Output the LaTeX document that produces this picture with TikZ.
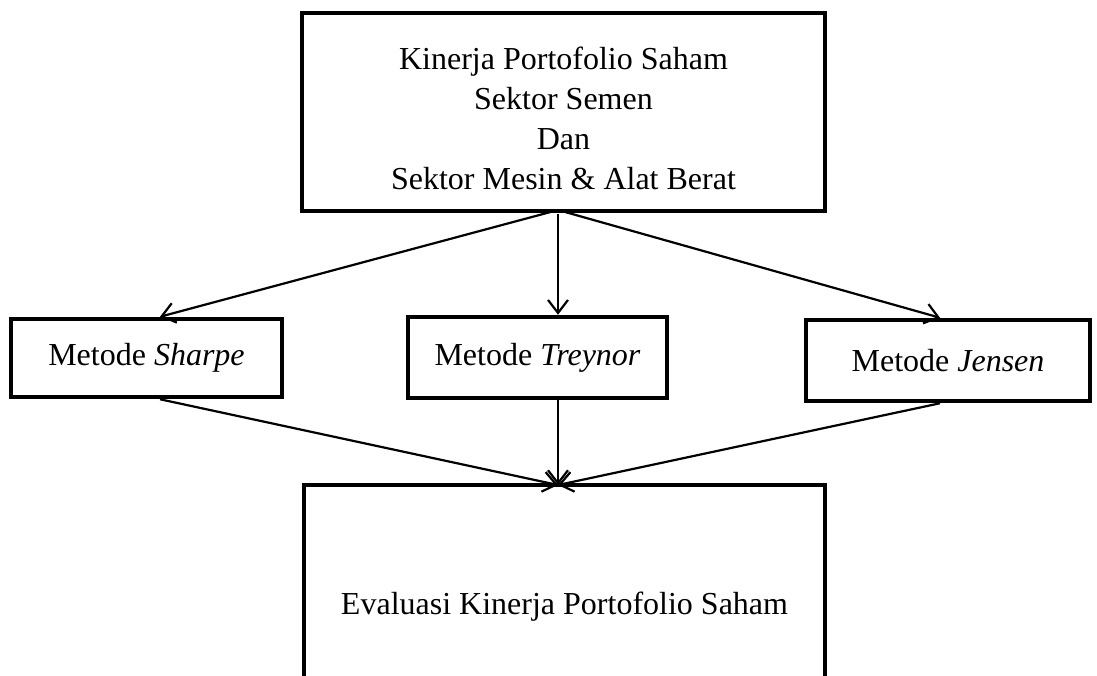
\documentclass[tikz,border=0pt]{standalone}
\usepackage{fontspec}
\setmainfont{Liberation Serif}
\usetikzlibrary{arrows.meta}

\begin{document}
\begin{tikzpicture}[x=1pt, y=-1pt,
    box/.style={draw, line width=4.5pt, align=center, inner sep=0pt,
                font=\fontsize{32}{40}\selectfont},
    arr/.style={line width=2.2pt, -{Straight Barb[length=13pt, width=20pt, line width=2.2pt]}}]
    \useasboundingbox (0,0) rectangle (1097,675);
    \clip (0,0) rectangle (1097,675);

    \node[box, minimum width=523pt, minimum height=198pt] (kinerja) at (563.5,112)
        {\rule{0pt}{36pt}Kinerja Portofolio Saham\\Sektor Semen\\Dan\\Sektor Mesin \& Alat Berat};

    \node[box, minimum width=271pt, minimum height=78pt] (sharpe) at (146.5,358) {Metode \textit{Sharpe}};
    \node[box, minimum width=259pt, minimum height=81pt] (treynor) at (537.5,357.5) {Metode \textit{Treynor}};
    \node[box, minimum width=284pt, minimum height=81pt] (jensen) at (948,360.5) {Metode \textit{Jensen}};

    \node[box, minimum width=521pt, minimum height=244pt] (evaluasi) at (564.5,607)
        {Evaluasi Kinerja Portofolio Saham};

    \coordinate (split) at (558,214);
    \coordinate (join) at (558,485);

    \draw[arr] ([yshift=4pt]split) -- ([xshift=13.5pt]sharpe.north);
    \draw[arr] (split) -- (split |- treynor.north);
    \draw[arr] ([yshift=4pt]split) -- ([xshift=-8pt]jensen.north);

    \draw[arr] ([xshift=13.5pt]sharpe.south) -- (join);
    \draw[arr] (join |- treynor.south) -- (join);
    \draw[arr] ([xshift=-8pt]jensen.south) -- (join);
\end{tikzpicture}
\end{document}
